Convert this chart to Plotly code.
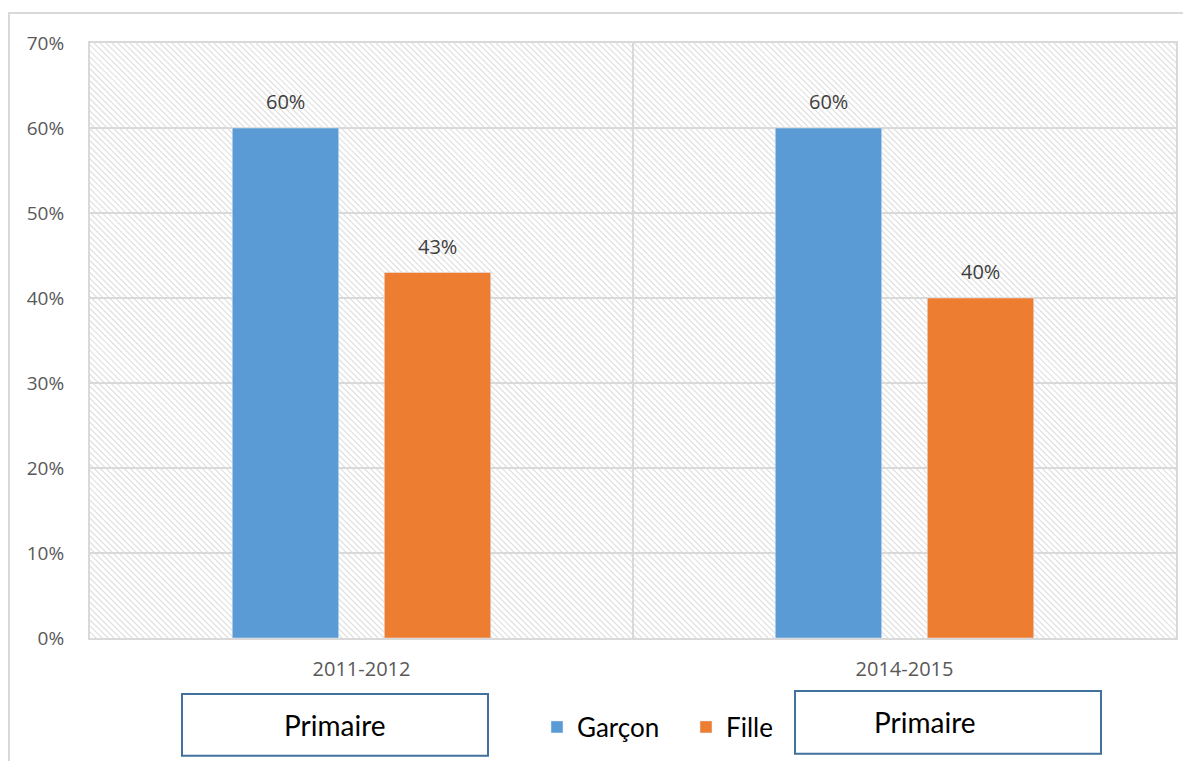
import base64
import plotly.graph_objects as go

categories = ["2011-2012", "2014-2015"]
garcon = [0.60, 0.60]
fille = [0.43, 0.40]
series_names = ["Garçon", "Fille"]
box_label = "Primaire"
y_ticks = [0, 0.1, 0.2, 0.3, 0.4, 0.5, 0.6, 0.7]

# page body has an 8px margin, so the figure is sized/offset accordingly
OFF = 8
W, H = 1191 - OFF, 761 - OFF
L, R, T, B = 90 - OFF, 15, 43 - OFF, 122
PW, PH = W - L - R, H - T - B

BLUE = "#5B9BD5"
ORANGE = "#ED7D31"
GRID = "#d9d9d9"

BARGAP = 0.44
GROUPGAP = 0.30


def px(xp):
    return (xp - OFF - L) / PW


def py(yp):
    return (H - B - (yp - OFF)) / PH


fig = go.Figure()
fig.add_trace(go.Bar(x=categories, y=garcon, name=series_names[0], marker_color=BLUE))
fig.add_trace(go.Bar(x=categories, y=fille, name=series_names[1], marker_color=ORANGE))

# data labels above bars, placed via the grouped slot offsets
slot = (1 - BARGAP) / 2
for s, vals in enumerate([garcon, fille]):
    off = -slot / 2 + s * slot
    for i, v in enumerate(vals):
        fig.add_annotation(x=i + off, y=v, xref="x", yref="y", text=f"{v:.0%}",
                           showarrow=False, yanchor="bottom", yshift=11,
                           font=dict(family="Open Sans", size=20, color="#404040"))

# hatched background for the plot area
n = 400
lines = "".join(f'<line x1="{-PH + k*6}" y1="0" x2="{k*6}" y2="{PH}" />' for k in range(0, n))
svg = (f'<svg xmlns="http://www.w3.org/2000/svg" width="{PW}" height="{PH}" viewBox="0 0 {PW} {PH}">'
       f'<rect width="{PW}" height="{PH}" fill="white"/>'
       f'<g stroke="#e0e0e0" stroke-width="1.2">{lines}</g></svg>')
src = "data:image/svg+xml;base64," + base64.b64encode(svg.encode()).decode()
fig.add_layout_image(source=src, xref="paper", yref="paper", x=0, y=1, sizex=1, sizey=1,
                     xanchor="left", yanchor="top", sizing="stretch", layer="below")

# outer chart border
fig.add_shape(type="rect", xref="paper", yref="paper",
              x0=px(9), x1=px(1205), y0=py(775), y1=py(13),
              line=dict(color=GRID, width=2), fillcolor="rgba(0,0,0,0)", layer="below")

# "Primaire" boxes
for (x0, y0, x1, y1, tx, ty) in [(182, 695, 488, 757, 335, 726), (795, 692, 1101, 755, 925, 723)]:
    fig.add_shape(type="rect", xref="paper", yref="paper", x0=px(x0), x1=px(x1), y0=py(y1), y1=py(y0),
                  line=dict(color="#41719C", width=2), fillcolor="white")
    fig.add_annotation(x=px(tx), y=py(ty), xref="paper", yref="paper", text=box_label, showarrow=False,
                       font=dict(family="Lato", size=28, color="#000000"),
                       xanchor="center", yanchor="middle")

fig.update_layout(
    width=W, height=H,
    margin=dict(l=L, r=R, t=T, b=B),
    paper_bgcolor="white", plot_bgcolor="rgba(0,0,0,0)",
    barmode="group", bargap=BARGAP, bargroupgap=GROUPGAP,
    showlegend=True,
    legend=dict(orientation="h", x=px(537), y=py(727), xanchor="left", yanchor="middle",
                font=dict(family="Lato", size=26, color="#000000"), entrywidth=104,
                bgcolor="rgba(0,0,0,0)", traceorder="normal"),
    xaxis=dict(showgrid=True, gridcolor=GRID, gridwidth=2, tickson="boundaries", ticks="",
               showline=True, mirror=True, linecolor=GRID, linewidth=2, zeroline=False,
               tickfont=dict(family="Open Sans", size=20, color="#595959"), ticklabelstandoff=12),
    yaxis=dict(range=[0, 0.7], tickvals=y_ticks, tickformat=".0%", showgrid=True, gridcolor=GRID, gridwidth=2,
               zeroline=False, showline=True, mirror=True, linecolor=GRID, linewidth=2, ticks="",
               tickfont=dict(family="Open Sans", size=19, color="#595959"), ticklabelstandoff=20),
)

fig.write_html("out.html")
